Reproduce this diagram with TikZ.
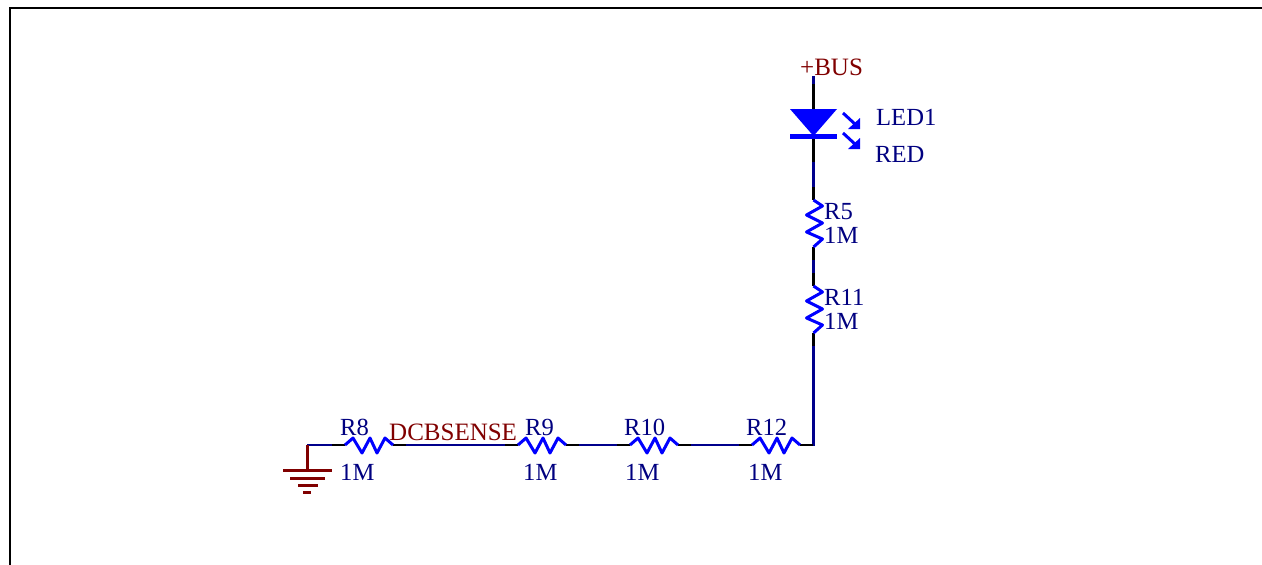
\documentclass[tikz,border=0pt]{standalone}
\usepackage{fontspec}
\setmainfont{Liberation Serif}
\definecolor{netblue}{RGB}{0,0,140}
\definecolor{partblue}{RGB}{0,0,255}
\definecolor{labelblue}{RGB}{0,0,128}
\definecolor{powerred}{RGB}{128,0,0}
\tikzset{
    wire/.style={draw=netblue,line width=2.8pt},
    pinline/.style={draw=black,line width=2.8pt},
    part/.style={draw=partblue,line width=3pt,line join=round},
    gnd/.style={draw=powerred,line width=3pt},
    des/.style={anchor=base west,inner sep=0pt,text=labelblue,font=\fontsize{24.6}{25}\selectfont},
    net/.style={anchor=base west,inner sep=0pt,text=powerred,font=\fontsize{25}{25}\selectfont},
    hres/.pic={
        \draw[pinline] (-13,0) -- (0,0);
        \draw[pinline] (48,0) -- (61,0);
        \draw[part] (0,0) -- (8,-7) -- (17,8) -- (25,-7) -- (32,8) -- (40,-7) -- (48,0);
    },
    vres/.pic={
        \draw[pinline] (0,-13) -- (0,0);
        \draw[pinline] (0,47) -- (0,60);
        \draw[part] (0,0) -- (9,6) -- (-7,15) -- (9,23) -- (-7,32) -- (9,39) -- (0,47);
    }
}
\begin{document}
\begin{tikzpicture}[x=1pt,y=-1pt]
    \useasboundingbox (0,0) rectangle (1262,565);

    % Sheet border
    \coordinate (b0) at (10,565);
    \coordinate (b1) at (10,8);
    \coordinate (b2) at (1262,8);
    \draw[black,line width=2.4pt] (b0) -- (b1) -- (b2);

    % The pins of the parts
    \coordinate (bus) at (813.5,76);
    \coordinate (a) at (813.5,110);
    \coordinate (k) at (813.5,136);
    \coordinate (r5a) at (813.5,200);
    \coordinate (r5b) at (813.5,247);
    \coordinate (r11a) at (813.5,286);
    \coordinate (r11b) at (813.5,333);
    \coordinate (corner) at (813.5,445);
    \coordinate (r12b) at (800,445);
    \coordinate (r12a) at (752,445);
    \coordinate (r10b) at (678,445);
    \coordinate (r10a) at (630,445);
    \coordinate (r9b) at (566,445);
    \coordinate (r9a) at (518,445);
    \coordinate (r8b) at (393,445);
    \coordinate (r8a) at (345,445);
    \coordinate (g) at (307,445);
    \coordinate (g0) at (307,470);

    % The lines!
    \draw[wire] (bus) -- (a);
    \draw[wire] (k) -- (r5a);
    \draw[wire] (r5b) -- (r11a);
    \draw[wire] (r11b) -- (corner) -- (r12b);
    \draw[wire] (r12a) -- (r10b);
    \draw[wire] (r10a) -- (r9b);
    \draw[wire] (r9a) -- (r8b);
    \draw[wire] (r8a) -- (g);
    \draw[pinline] (813.5,84) -- (a);
    \draw[pinline] (k) -- (813.5,162);

    % The resistors
    \pic at (r8a) {hres};
    \pic at (r9a) {hres};
    \pic at (r10a) {hres};
    \pic at (r12a) {hres};
    \pic at (r5a) {vres};
    \pic at (r11a) {vres};

    % The LED
    \fill[partblue] (790,109) -- (837,109) -- (813.5,136) -- cycle;
    \draw[partblue,line width=5pt] (790,136) -- (837,136);
    \draw[partblue,line width=3pt] (843,113) -- (856,125);
    \fill[partblue] (860,118) -- (860,129) -- (848,129) -- cycle;
    \draw[partblue,line width=3pt] (843,133) -- (856,145);
    \fill[partblue] (860,138) -- (860,149) -- (848,149) -- cycle;

    % The ground
    \draw[gnd] (g) -- (g0);
    \draw[gnd] (283,470) -- (332,470);
    \draw[gnd] (290,478) -- (325,478);
    \draw[gnd] (298,485) -- (318,485);
    \draw[gnd] (303,492) -- (311,492);

    % The labels
    \node[net] (busl) at (800,75) {+BUS};
    \node[net] (sense) at (389,440) {DCBSENSE};
    \node[des] (led) at (876,125) {LED1};
    \node[des] (ledv) at (875,162) {RED};
    \node[des] (r5) at (824,219) {R5};
    \node[des] (r5v) at (824,243) {1M};
    \node[des] (r11) at (824,305) {R11};
    \node[des] (r11v) at (824,329) {1M};
    \node[des] (r8) at (340,435) {R8};
    \node[des] (r8v) at (340,480) {1M};
    \node[des] (r9) at (525,435) {R9};
    \node[des] (r9v) at (523,480) {1M};
    \node[des] (r10) at (624,435) {R10};
    \node[des] (r10v) at (625,480) {1M};
    \node[des] (r12) at (746,435) {R12};
    \node[des] (r12v) at (748,480) {1M};
\end{tikzpicture}
\end{document}
